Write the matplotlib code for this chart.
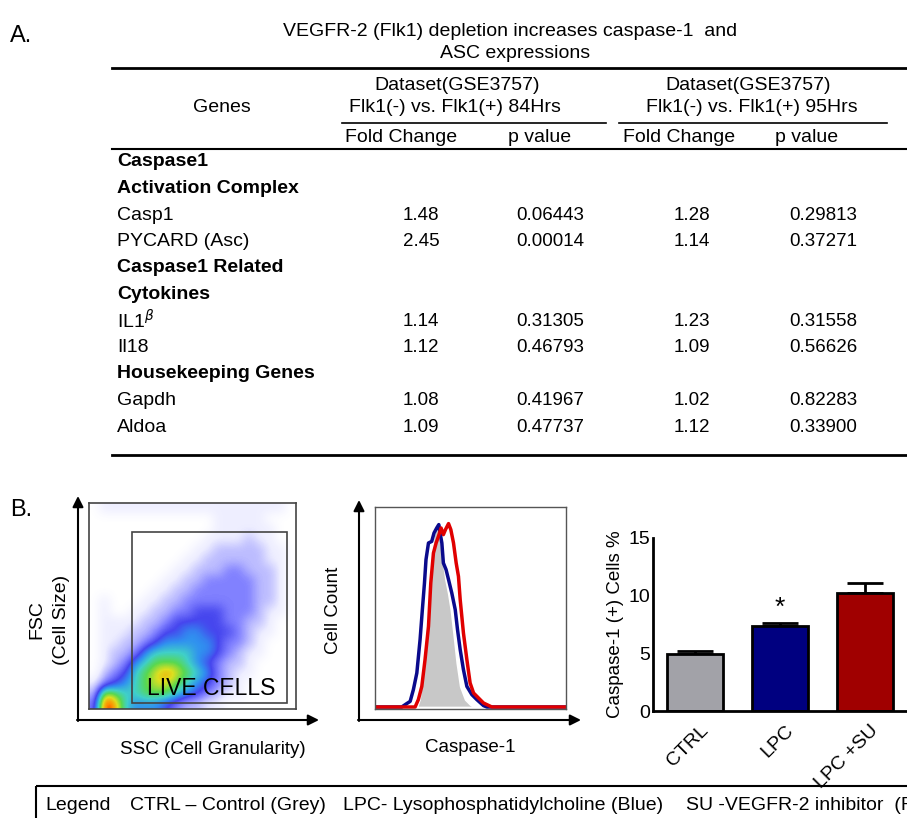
import matplotlib
matplotlib.use("Agg")
import matplotlib.pyplot as plt
import numpy as np
from matplotlib.colors import LinearSegmentedColormap
from matplotlib.patches import Rectangle

plt.rcParams["font.family"] = ["Liberation Sans", "DejaVu Sans"]

# ---- Panel A table ----
row_labels = ["Caspase1", "Activation Complex", "Casp1", "PYCARD (Asc)",
              "Caspase1 Related", "Cytokines", r"IL1$^{\beta}$", "Il18",
              "Housekeeping Genes", "Gapdh", "Aldoa"]
row_bold = [True, True, False, False, True, True, False, False, True, False, False]
fc_84 = [None, None, 1.48, 2.45, None, None, 1.14, 1.12, None, 1.08, 1.09]
p_84 = [None, None, 0.06443, 0.00014, None, None, 0.31305, 0.46793, None, 0.41967, 0.47737]
fc_95 = [None, None, 1.28, 1.14, None, None, 1.23, 1.09, None, 1.02, 1.12]
p_95 = [None, None, 0.29813, 0.37271, None, None, 0.31558, 0.56626, None, 0.82283, 0.33900]

# ---- Panel B: FSC/SSC density (rows top -> bottom, 5-unit cells) ----
scatter_density = [
    [0, 1, 1, 1, 1, 1, 1, 1, 1, 1, 1, 1, 1, 1, 1, 1, 1, 1, 1, 0],
    [0, 0, 0, 0, 0, 0, 0, 0, 0, 0, 0, 0, 1, 1, 1, 1, 1, 0, 0, 0],
    [0, 0, 0, 0, 0, 0, 0, 0, 0, 0, 0, 0, 1, 1, 1, 1, 1, 1, 0, 0],
    [0, 0, 0, 0, 0, 0, 0, 0, 0, 0, 0, 1, 1, 1, 1, 2, 1, 1, 0, 0],
    [0, 0, 0, 0, 0, 0, 0, 0, 0, 0, 1, 1, 2, 2, 2, 2, 2, 1, 1, 0],
    [0, 0, 0, 0, 0, 0, 0, 0, 0, 1, 1, 2, 2, 2, 2, 2, 2, 1, 1, 0],
    [0, 0, 0, 0, 0, 0, 0, 0, 1, 1, 2, 2, 2, 3, 3, 2, 2, 2, 1, 0],
    [0, 0, 0, 0, 0, 0, 0, 1, 1, 2, 2, 3, 3, 3, 3, 3, 2, 2, 1, 0],
    [0, 0, 0, 0, 0, 0, 1, 1, 2, 2, 3, 3, 3, 3, 3, 3, 2, 2, 1, 0],
    [0, 1, 0, 0, 0, 1, 1, 2, 2, 3, 3, 3, 3, 3, 3, 3, 2, 2, 1, 0],
    [0, 1, 0, 0, 1, 1, 2, 2, 3, 3, 4, 4, 4, 3, 3, 3, 2, 1, 1, 0],
    [0, 1, 1, 1, 1, 2, 2, 3, 4, 4, 4, 4, 4, 3, 3, 2, 2, 1, 0, 0],
    [0, 1, 1, 1, 2, 2, 3, 4, 4, 5, 5, 4, 4, 4, 3, 2, 1, 1, 0, 0],
    [0, 1, 1, 2, 2, 3, 4, 5, 5, 5, 5, 5, 4, 3, 3, 2, 1, 0, 0, 0],
    [0, 1, 2, 2, 3, 5, 6, 6, 6, 6, 5, 5, 4, 3, 2, 1, 1, 0, 0, 0],
    [0, 1, 2, 3, 5, 6, 7, 7, 7, 6, 5, 4, 3, 2, 2, 1, 0, 0, 0, 0],
    [0, 2, 3, 4, 6, 7, 8, 9, 8, 7, 6, 5, 3, 2, 1, 1, 0, 0, 0, 0],
    [1, 3, 4, 5, 6, 7, 8, 8, 7, 6, 5, 4, 3, 2, 1, 0, 0, 0, 0, 0],
    [2, 8, 7, 6, 6, 7, 7, 7, 6, 5, 4, 3, 2, 1, 1, 0, 0, 0, 0, 0],
    [3, 10, 9, 6, 5, 5, 5, 4, 3, 2, 2, 1, 1, 0, 0, 0, 0, 0, 0, 0],
]

# ---- Panel B: caspase-1 histograms (channel, % of max) ----
grey_x = [0, 21.9, 23.3, 24.5, 25.7, 27.1, 28.3, 29.4, 30.6, 31.6, 32.9, 34.1, 35.5,
          36.9, 38.3, 39.7, 41.1, 42.8, 44.6, 47.2, 49.8, 52.4, 100]
grey_y = [0, 0, 3.7, 13.7, 30.3, 45.3, 62, 75.3, 85.3, 89.5, 90.3, 83.7, 73.7,
          63.7, 57, 48.7, 37, 22, 10.3, 3.7, 1.2, 0, 0]
blue_x = [0, 14.0, 16.6, 18.4, 20.1, 21.9, 23.6, 24.8, 25.9, 26.7, 28.0, 29.7, 30.9,
          32.3, 33.4, 34.1, 35.0, 35.8, 37.2, 38.5, 40.2, 42.0, 43.2, 44.6, 46.3,
          48.1, 50.7, 53.3, 56.8, 58.6, 100]
blue_y = [0, 0, 1.7, 2.8, 8.7, 17, 33.7, 48.7, 62, 73.7, 82, 82.8, 87,
          89.5, 91.2, 87, 82, 72, 68.7, 63.7, 57, 48.7, 38.7, 28.7, 18.7,
          10.3, 6.2, 3.7, 0.7, 0, 0]
red_x = [0, 21.0, 22.7, 24.5, 26.2, 28.0, 29.2, 30.6, 32.0, 33.2, 34.6, 35.8, 36.9,
         38.5, 39.7, 41.1, 42.5, 43.7, 44.6, 46.3, 48.1, 49.8, 51.6, 54.2, 56.8,
         61.2, 100]
red_y = [0, 0, 3.7, 10.3, 23.7, 40.3, 62, 77, 82, 85.3, 89.5, 86.2, 88.7,
         91.7, 88.7, 82, 72, 65.3, 53.7, 37, 23.7, 12, 7, 4.5, 2,
         0, 0]

# ---- Panel B: bar chart ----
groups = ["CTRL", "LPC", "LPC +SU"]
pct_mean = [4.9, 7.4, 10.2]
pct_err = [0.3, 0.2, 0.9]
bar_colors = ["#a2a2a8", "#000080", "#a00000"]

legend_items = ["Legend", "CTRL \u2013 Control (Grey)",
                "LPC- Lysophosphatidylcholine (Blue)", "SU -VEGFR-2 inhibitor  (Red)"]
legend_x = [45, 130, 343, 686]

W, H = 907, 818


def box(x0, y0, x1, y1):
    return [x0 / W, 1 - y1 / H, (x1 - x0) / W, (y1 - y0) / H]


fig = plt.figure(figsize=(W / 100, H / 100), dpi=100)

# overlay axes in pixel units for the table and free text
ax0 = fig.add_axes([0, 0, 1, 1])
ax0.set_xlim(0, W)
ax0.set_ylim(H, 0)
ax0.axis("off")

fs = 14
ax0.text(10, 36, "A.", fontsize=17, va="center")
ax0.text(510, 31, "VEGFR-2 (Flk1) depletion increases caspase-1  and", fontsize=fs,
         ha="center", va="center")
ax0.text(515, 53, "ASC expressions", fontsize=fs, ha="center", va="center")
ax0.plot([112, W], [68, 68], color="black", lw=2)
ax0.text(457, 85, "Dataset(GSE3757)", fontsize=fs, ha="center", va="center")
ax0.text(748, 85, "Dataset(GSE3757)", fontsize=fs, ha="center", va="center")
ax0.text(222, 108, "Genes", fontsize=fs, ha="center", va="center")
ax0.text(455, 108, "Flk1(-) vs. Flk1(+) 84Hrs", fontsize=fs, ha="center", va="center")
ax0.text(752, 108, "Flk1(-) vs. Flk1(+) 95Hrs", fontsize=fs, ha="center", va="center")
ax0.plot([342, 606], [123, 123], color="black", lw=1.2)
ax0.plot([619, 887], [123, 123], color="black", lw=1.2)
for x, s in zip([345, 508, 623, 775], ["Fold Change", "p value", "Fold Change", "p value"]):
    ax0.text(x, 137, s, fontsize=fs, va="center")
ax0.plot([112, W], [149, 149], color="black", lw=1.5)

for i, lab in enumerate(row_labels):
    y = 162 + 26.5 * i
    ax0.text(117, y, lab, fontsize=fs, va="center",
             fontweight="bold" if row_bold[i] else "normal")
    if fc_84[i] is not None:
        ax0.text(421, y, f"{fc_84[i]:.2f}", fontsize=13.5, ha="center", va="center")
        ax0.text(550, y, f"{p_84[i]:.5f}", fontsize=13.5, ha="center", va="center")
        ax0.text(692, y, f"{fc_95[i]:.2f}", fontsize=13.5, ha="center", va="center")
        ax0.text(823, y, f"{p_95[i]:.5f}", fontsize=13.5, ha="center", va="center")
ax0.plot([112, W], [455, 455], color="black", lw=2)

# Panel B label and axis arrows
ax0.text(10, 510, "B.", fontsize=17, va="center")
arrow = dict(arrowstyle="-|>", color="black", lw=1.5, mutation_scale=16,
             shrinkA=0, shrinkB=0)
ax0.annotate("", xy=(78, 496), xytext=(78, 721), arrowprops=arrow)
ax0.annotate("", xy=(319, 720), xytext=(77, 720), arrowprops=arrow)
ax0.annotate("", xy=(359, 500), xytext=(359, 721), arrowprops=arrow)
ax0.annotate("", xy=(581, 720), xytext=(358, 720), arrowprops=arrow)
ax0.text(37, 620, "FSC", fontsize=14, rotation=90, ha="center", va="center")
ax0.text(62, 620, "(Cell Size)", fontsize=14, rotation=90, ha="center", va="center")
ax0.text(213, 750, "SSC (Cell Granularity)", fontsize=13.5, ha="center", va="center")
ax0.text(333, 610, "Cell Count", fontsize=13.5, rotation=90, ha="center", va="center")
ax0.text(470, 748, "Caspase-1", fontsize=13.5, ha="center", va="center")

# legend box at the bottom
ax0.add_patch(Rectangle((36, 786), 900, 60, fill=False, edgecolor="black", lw=1.5))
for x, s in zip(legend_x, legend_items):
    ax0.text(x, 806, s, fontsize=14, va="center")

# ---- FSC/SSC density plot ----
flow_cmap = LinearSegmentedColormap.from_list(
    "flow", [(0.0, "white"), (0.1, "#eeeeff"), (0.2, "#bcbcff"), (0.3, "#8080ff"),
             (0.4, "#4646ee"), (0.5, "#3090f0"), (0.6, "#40d0c8"), (0.7, "#58d850"),
             (0.8, "#dce020"), (0.9, "#ff9000"), (1.0, "#e00000")])
ax1 = fig.add_axes(box(89, 503, 296, 709))
ax1.imshow(np.array(scatter_density, dtype=float), extent=[0, 100, 0, 100],
           origin="upper", aspect="auto", cmap=flow_cmap, vmin=0, vmax=10,
           interpolation="bicubic")
ax1.add_patch(Rectangle((20.8, 2.9), 74.9, 83.0, fill=False, edgecolor="#444444", lw=1.2))
ax1.text(28, 10, "LIVE CELLS", fontsize=16.5, va="center")
ax1.set_xlim(0, 100)
ax1.set_ylim(0, 100)
ax1.set_xticks([])
ax1.set_yticks([])
for sp in ax1.spines.values():
    sp.set_color("#444444")
    sp.set_linewidth(1.2)

# ---- Caspase-1 histogram ----
ax2 = fig.add_axes(box(375, 507, 566, 709))
ax2.fill_between(grey_x, grey_y, color="#c8c8c8", edgecolor="white", lw=1.2)
ax2.plot(blue_x, blue_y, color="#0a0a8c", lw=2.5)
ax2.plot(red_x, red_y, color="#e00000", lw=2.5)
ax2.set_xlim(0, 100)
ax2.set_ylim(-1, 100)
ax2.set_xticks([])
ax2.set_yticks([])
for sp in ax2.spines.values():
    sp.set_color("#555555")
    sp.set_linewidth(1)

# ---- Bar chart ----
ax3 = fig.add_axes(box(653, 538, 907, 711))
pos = np.arange(len(groups))
ax3.bar(pos, pct_mean, width=0.66, color=bar_colors, edgecolor="black", lw=2, zorder=2)
ax3.errorbar(pos, pct_mean, yerr=[np.zeros(len(groups)), pct_err], fmt="none",
             ecolor="black", elinewidth=2, capsize=13, capthick=2, zorder=1)
ax3.text(pos[1], 8.9, "*", fontsize=19, ha="center", va="center")
ax3.set_xlim(-0.494, 2.494)
ax3.set_ylim(0, 15)
ax3.set_yticks([0, 5, 10, 15])
ax3.tick_params(axis="y", length=0, pad=2, labelsize=14)
ax3.set_xticks(pos + 0.06)
ax3.set_xticklabels(groups, rotation=45, ha="right", va="top", rotation_mode="anchor",
                    fontsize=14)
ax3.tick_params(axis="x", length=0, pad=8)
ax3.set_ylabel("Caspase-1 (+) Cells %", fontsize=13.5, labelpad=3)
ax3.spines["top"].set_visible(False)
ax3.spines["right"].set_visible(False)
ax3.spines["left"].set_linewidth(2)
ax3.spines["bottom"].set_linewidth(2)

fig.savefig("out.png", dpi=100)
